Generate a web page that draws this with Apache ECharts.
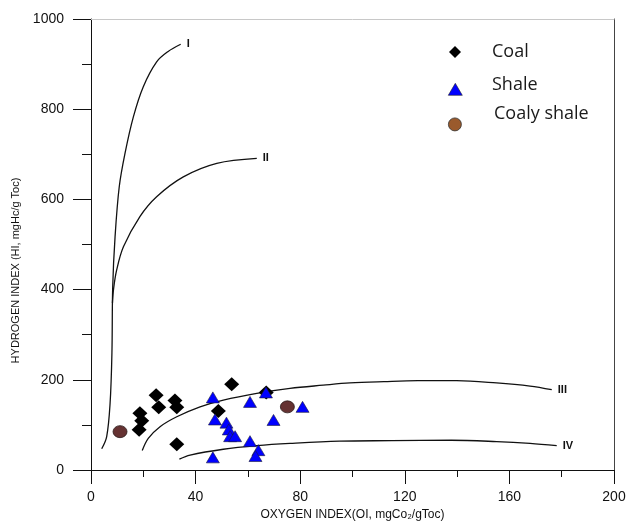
<!DOCTYPE html>
<html><head><meta charset="utf-8">
<script src="https://cdn.jsdelivr.net/npm/echarts@6/dist/echarts.min.js"></script>
<style>html,body{margin:0;padding:0;background:#fff}#c{width:629px;height:521px}</style>
</head><body><div id="c"></div>
<script>
// Tick labels / axis settings
const xTicks = [0, 40, 80, 120, 160, 200];
const yTicks = [0, 200, 400, 600, 800, 1000];
const seriesNames = ['Coal', 'Shale', 'Coaly shale'];
const curveNames = ['I', 'II', 'III', 'IV'];

// Samples [OI, HI]
const coal = [[18.7,126],[19.4,109],[18.4,89],[24.9,166],[25.9,139],[32.1,154],[32.8,139],[32.8,57],[53.8,190],[48.7,131],[67.0,172]];
const shale = [[46.6,161],[60.8,151],[66.9,172],[80.9,140],[69.8,111],[47.4,112],[51.8,105],[52.7,90],[53.2,75],[55.1,75],[60.8,64],[64.0,44],[62.9,31],[46.6,28]];
const coalyShale = [[11.1,85],[75.1,140]];

// Kerogen type boundary curves [OI, HI]
const curveI = [[4.1,47],[6.0,74],[7.3,148],[8.0,259],[8.3,406],[9.2,517],[10.8,628],[13.0,702],[16.2,783],[20.0,850],[25.1,905],[29.5,928],[34.3,944]];
const curveII = [[8.2,370],[8.6,400],[9.8,443],[12.4,495],[18.7,562],[25.1,606],[35.3,650],[48.1,680],[63.4,691]];
const curveIII = [[19.6,43],[21.9,70],[26.4,96],[32.8,118],[41.7,140],[50.6,155],[63.4,170],[76.1,181],[88.8,188],[99,193],[112,196],[125,198],[139.8,198],[155.1,193],[167.9,186],[176.2,178]];
const curveIV = [[33.8,24],[37.9,33],[50.6,46],[63.4,54],[76.1,59],[95,64],[115,65],[137.8,66],[155.1,63],[167.9,59],[178.1,54]];

const chart = echarts.init(document.getElementById('c'), null, {renderer: 'canvas'});
const F = "'Liberation Sans', Arial, sans-serif";
const LF = "'Open Sans', sans-serif";
const curveData = [curveI, curveII, curveIII, curveIV];

function curve(name, data) {
  return {
    name: name, type: 'line', data: data, smooth: 0.35, symbol: 'none', silent: true,
    xAxisIndex: 0, yAxisIndex: 0, z: 1,
    lineStyle: {color: '#111', width: 1.3},
    endLabel: {show: true, formatter: name, color: '#111', fontWeight: 'bold',
      fontFamily: F, fontSize: 11, distance: 6, offset: [0, 0]}
  };
}

const legendIcons = [
  {name: 'Coal', cy: 52, size: [12, 12], style: {color: '#000', borderWidth: 0}},
  {name: 'Shale', cy: 89, size: [14, 12], style: {color: '#0000ff', borderColor: '#222', borderWidth: 0.6}},
  {name: 'Coaly shale', cy: 124, size: [14, 13], style: {color: '#9a5a2c', borderColor: '#333', borderWidth: 0.8}}
];
const legendTexts = [
  {name: 'Coal', cy: 52, x: 492},
  {name: 'Shale', cy: 85, x: 492},
  {name: 'Coaly shale', cy: 114, x: 494}
];

const option = {
  backgroundColor: '#fff',
  animation: false,
  grid: {left: 91, right: 15, top: 19, bottom: 51, show: false, containLabel: false, outerBoundsMode: 'none'},
  legend: [
    ...legendIcons.map(l => ({
      data: [{name: l.name, itemStyle: l.style}], left: 455 - l.size[0] / 2, top: l.cy - l.size[1] / 2,
      padding: 0, itemWidth: l.size[0], itemHeight: l.size[1], selectedMode: false,
      formatter: () => '', textStyle: {fontSize: 1, lineHeight: 1}
    })),
    ...legendTexts.map(l => ({
      data: [{name: l.name, icon: 'none'}], left: l.x - 5, top: l.cy - 10,
      padding: 0, itemWidth: 0, itemHeight: 20, selectedMode: false,
      textStyle: {fontFamily: LF, fontSize: 18, lineHeight: 20, color: '#1a1a1a'}
    }))
  ],
  xAxis: [{
    type: 'value', min: xTicks[0], max: xTicks[xTicks.length-1], interval: 40,
    name: 'OXYGEN INDEX(OI, mgCo\u2082/gToc)', nameLocation: 'middle', nameGap: 35,
    nameTextStyle: {fontFamily: F, fontSize: 12, color: '#111'},
    axisLine: {show: true, onZero: false, lineStyle: {color: '#111', width: 1}},
    axisTick: {show: true, inside: false, length: 14, lineStyle: {color: '#111'}},
    minorTick: {show: true, splitNumber: 2, length: 7, lineStyle: {color: '#111'}},
    axisLabel: {margin: 20, fontFamily: F, fontSize: 14, color: '#111', formatter: v => String(v)},
    splitLine: {show: false}
  }, {
    type: 'value', position: 'top', min: 0, max: 200, interval: 40,
    axisLine: {show: true, onZero: false, lineStyle: {color: '#c8c8c8'}},
    axisTick: {show: false}, axisLabel: {show: false}, splitLine: {show: false}
  }],
  yAxis: [{
    type: 'value', min: yTicks[0], max: yTicks[yTicks.length-1], interval: 200,
    name: 'HYDROGEN INDEX (HI, mgHc/g Toc)', nameLocation: 'middle', nameGap: 55, nameRotate: 90,
    nameTextStyle: {fontFamily: "'Liberation Sans Narrow', 'Liberation Sans', Arial, sans-serif", fontSize: 11, color: '#111', padding: [0, 52, 0, 0]},
    axisLine: {show: true, onZero: false, lineStyle: {color: '#111', width: 1}},
    axisTick: {show: true, inside: false, length: 18, lineStyle: {color: '#111'}},
    minorTick: {show: true, splitNumber: 2, length: 9, lineStyle: {color: '#111'}},
    axisLabel: {margin: 27, fontFamily: F, fontSize: 14, color: '#111', formatter: v => String(v)},
    splitLine: {show: false}
  }, {
    type: 'value', position: 'right', min: 0, max: 1000, interval: 200,
    axisLine: {show: true, onZero: false, lineStyle: {color: '#444'}},
    axisTick: {show: false}, axisLabel: {show: false}, splitLine: {show: false}
  }],
  series: [
    ...curveData.map((d, i) => curve(curveNames[i], d)),
    {name: seriesNames[0], type: 'scatter', data: coal, symbol: 'diamond', symbolSize: [15, 14], z: 3,
     itemStyle: {color: '#000', opacity: 1}},
    {name: seriesNames[1], type: 'scatter', data: shale, symbol: 'triangle', symbolSize: [13, 11], z: 4,
     itemStyle: {color: '#0000ff', borderColor: '#1a1a3a', borderWidth: 0.6, opacity: 1}},
    {name: seriesNames[2], type: 'scatter', data: coalyShale, symbol: 'circle', symbolSize: [14, 12], z: 5,
     itemStyle: {color: '#653232', borderColor: '#2a1a1a', borderWidth: 0.8, opacity: 1}}
  ]
};
chart.setOption(option);
</script>
</body></html>
